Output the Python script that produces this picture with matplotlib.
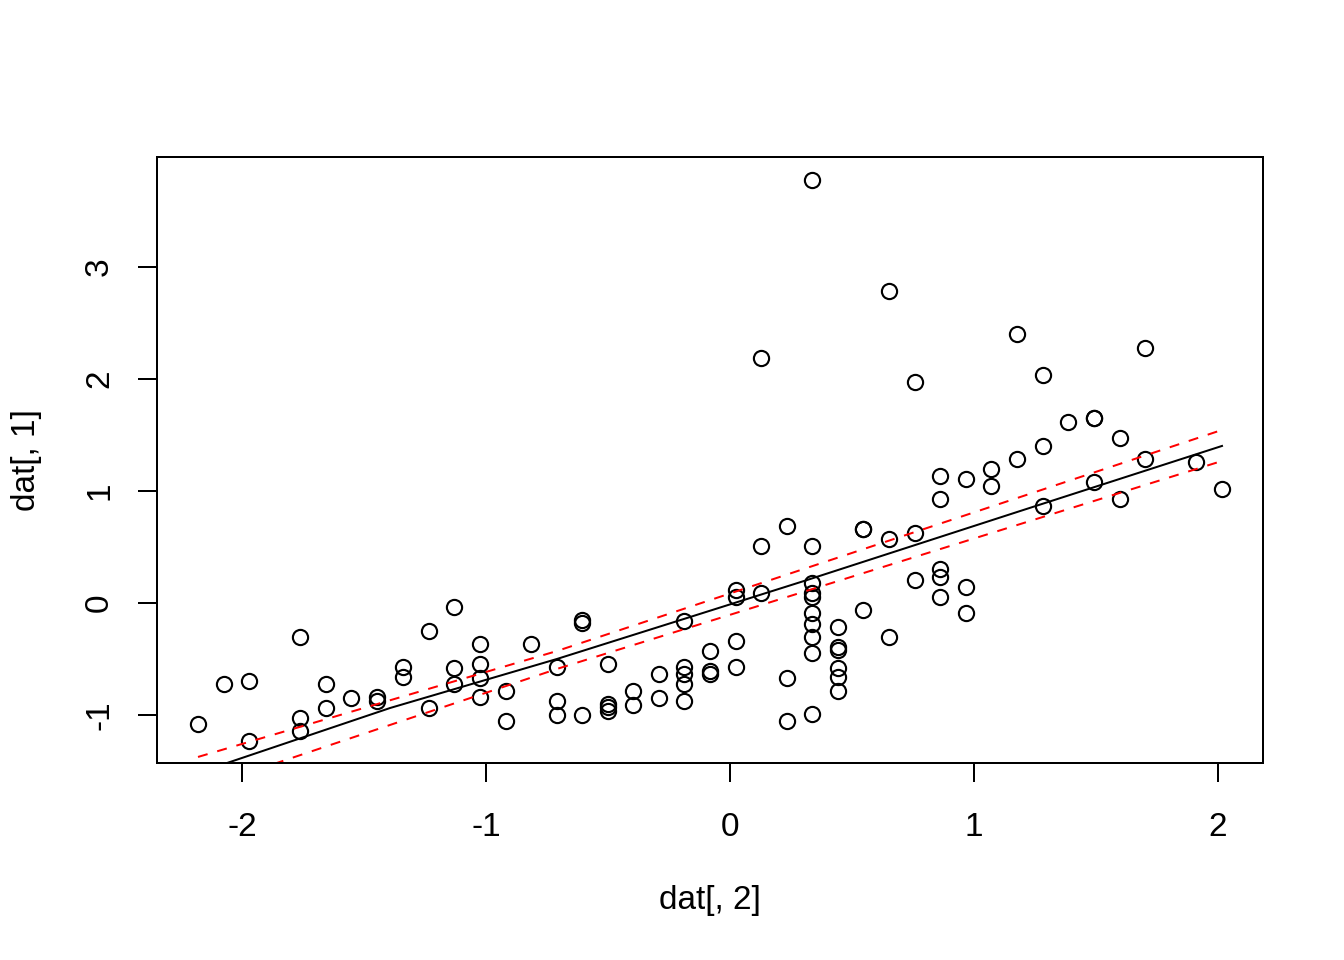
"""Scatter of dat[, 1] against dat[, 2] with fitted line and dashed bounds."""
import matplotlib
matplotlib.use("Agg")
import matplotlib.pyplot as plt

plt.rcParams["font.family"] = ["Liberation Sans", "DejaVu Sans"]
plt.rcParams["font.size"] = 12

# points, grouped by x column
x = [-2.180,
     -2.074,
     -1.971, -1.971,
     -1.762, -1.762, -1.762,
     -1.656, -1.656,
     -1.553,
     -1.447, -1.447,
     -1.340, -1.340,
     -1.234, -1.234,
     -1.131, -1.131, -1.131,
     -1.025, -1.025, -1.025, -1.025,
     -0.918, -0.918,
     -0.816,
     -0.709, -0.709, -0.709,
     -0.607, -0.607, -0.607,
     -0.500, -0.500, -0.500, -0.500,
     -0.398, -0.398,
     -0.291, -0.291,
     -0.189, -0.189, -0.189, -0.189, -0.189,
     -0.082, -0.082, -0.082,
     0.025, 0.025, 0.025, 0.025,
     0.127, 0.127, 0.127,
     0.234, 0.234, 0.234,
     0.336, 0.336, 0.336, 0.336, 0.336, 0.336, 0.336, 0.336, 0.336, 0.336,
     0.443, 0.443, 0.443, 0.443, 0.443, 0.443,
     0.545, 0.545, 0.545,
     0.652, 0.652, 0.652,
     0.758, 0.758, 0.758,
     0.861, 0.861, 0.861, 0.861, 0.861,
     0.967, 0.967, 0.967,
     1.070, 1.070,
     1.176, 1.176,
     1.283, 1.283, 1.283,
     1.385,
     1.492, 1.492, 1.492,
     1.598, 1.598,
     1.701, 1.701,
     1.910,
     2.016]
y = [-1.080,
     -0.723,
     -0.696, -1.232,
     -0.304, -1.027, -1.143,
     -0.723, -0.938,
     -0.848,
     -0.839, -0.875,
     -0.571, -0.661,
     -0.250, -0.938,
     -0.036, -0.580, -0.723,
     -0.366, -0.545, -0.670, -0.839,
     -0.786, -1.054,
     -0.366,
     -0.571, -0.875, -1.000,
     -0.152, -0.179, -1.000,
     -0.545, -0.902, -0.929, -0.964,
     -0.786, -0.911,
     -0.634, -0.848,
     -0.161, -0.571, -0.634, -0.723, -0.875,
     -0.429, -0.607, -0.634,
     0.116, 0.054, -0.339, -0.571,
     2.188, 0.509, 0.089,
     0.688, -0.670, -1.054,
     3.777, 0.509, 0.179, 0.089, 0.054, -0.089, -0.188, -0.304, -0.446, -0.991,
     -0.214, -0.393, -0.420, -0.580, -0.661, -0.786,
     0.661, 0.661, -0.063,
     2.786, 0.571, -0.304,
     1.973, 0.625, 0.205,
     1.134, 0.929, 0.304, 0.232, 0.054,
     1.107, 0.143, -0.089,
     1.196, 1.045,
     2.402, 1.286,
     2.036, 1.402, 0.866,
     1.616,
     1.652, 1.652, 1.080,
     1.473, 0.929,
     2.277, 1.286,
     1.259,
     1.018]

# fitted line and the two dashed bounds
fit_x = [-2.180, -2.061, -1.393, -0.709, -0.189, 0.316, 1.189, 2.016]
fit_y = [-1.517, -1.429, -0.938, -0.500, -0.143, 0.205, 0.821, 1.402]
upper_x = [-2.180, -0.709, 2.016]
upper_y = [-1.375, -0.429, 1.545]
lower_x = [-2.180, -0.709, 2.016]
lower_y = [-1.665, -0.589, 1.268]

W, H = 1344, 960
fig = plt.figure(figsize=(7, 5), dpi=192)
ax = fig.add_axes([157 / W, (H - 763) / H, (1263 - 157) / W, (763 - 157) / H])

ax.plot(x, y, "o", ms=5.7, mfc="none", mec="black", mew=0.8, linestyle="none")
ax.plot(fit_x, fit_y, color="black", lw=0.75)
ax.plot(upper_x, upper_y, color="#ff0000", lw=0.75, dashes=(5, 5))
ax.plot(lower_x, lower_y, color="#ff0000", lw=0.75, dashes=(5, 5))

ax.set_xlim(-2.348, 2.184)
ax.set_ylim(-1.429, 3.982)
ax.set_xticks([-2, -1, 0, 1, 2])
ax.set_yticks([-1, 0, 1, 2, 3])
ax.set_yticklabels(["-1", "0", "1", "2", "3"], rotation=90, va="center")
ax.set_xticklabels(["-2", "-1", "0", "1", "2"])
ax.tick_params(axis="x", length=7.2, width=0.75, pad=11, labelsize=12.5)
ax.tick_params(axis="y", length=7.2, width=0.75, pad=8.5, labelsize=12.5)
for s in ax.spines.values():
    s.set_linewidth(0.75)

fig.text(710 / W, 1 - 901 / H, "dat[, 2]", ha="center", va="center", fontsize=12.5)
fig.text(27 / W, 1 - 460 / H, "dat[, 1]", ha="center", va="center", rotation=90,
         fontsize=12.5)

fig.savefig("out.png", dpi=192)
plt.close(fig)
